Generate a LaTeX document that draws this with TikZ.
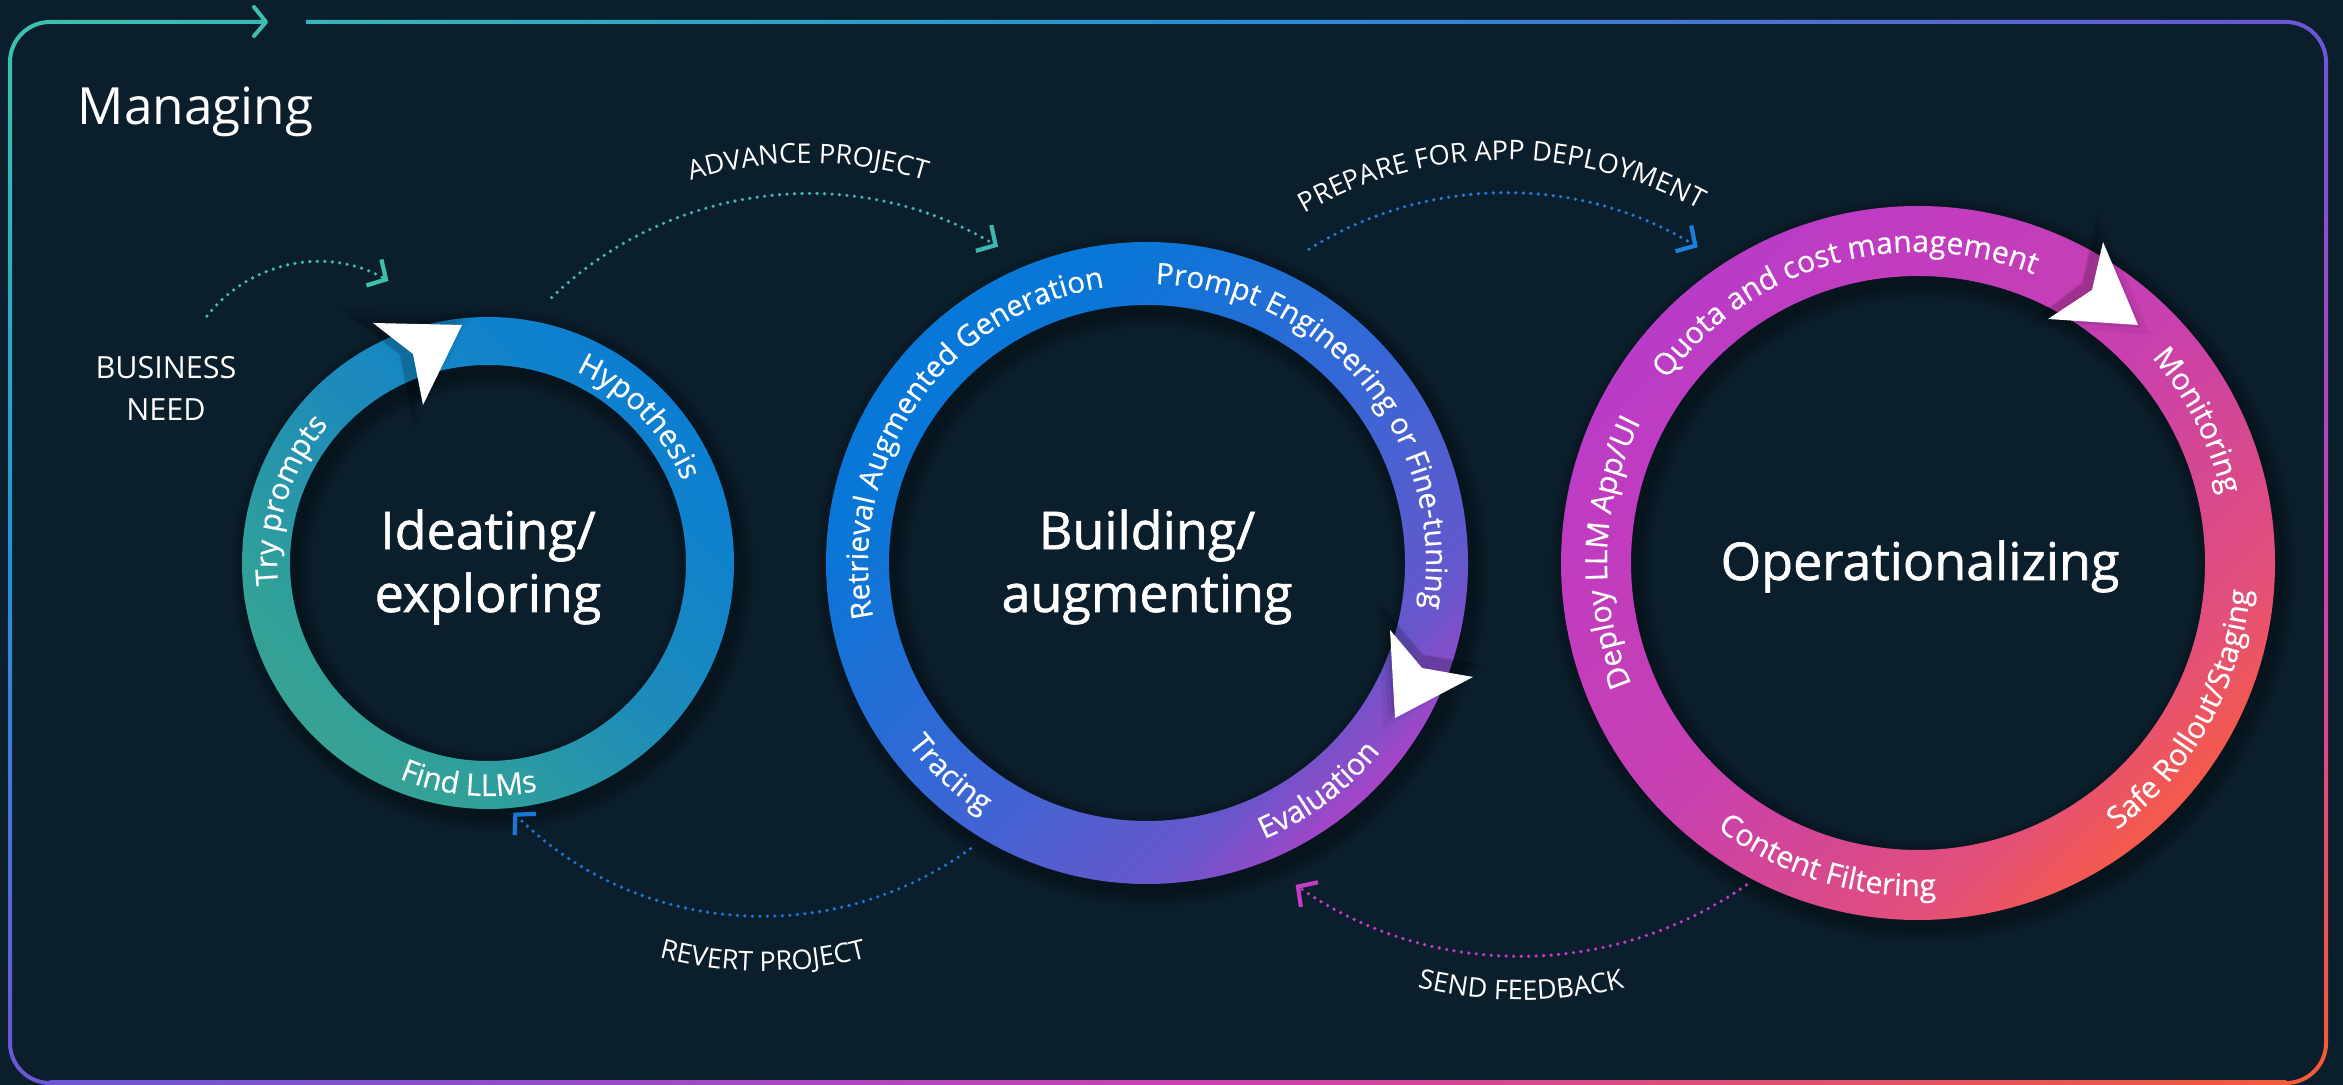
\documentclass[tikz,border=0pt]{standalone}
\usepackage{fontspec}
\setmainfont{Open Sans}
\newfontfamily\semib{Open Sans}[FakeBold=1.2]
\newfontfamily\medium{Open Sans}[FakeBold=0.4]
\usetikzlibrary{decorations.text, arrows.meta}

\definecolor{bg}{HTML}{0B1E2B}
% frame colours
\definecolor{fT}{HTML}{3CC1AE}
\definecolor{fB}{HTML}{2592D6}
\definecolor{fP}{HTML}{6A57D3}
\definecolor{fM}{HTML}{C841B4}
\definecolor{fO}{HTML}{F35A3A}
% ring 1
\definecolor{a0}{HTML}{38A294}
\definecolor{a1}{HTML}{30A09A}
\definecolor{a2}{HTML}{1E8CB8}
\definecolor{a3}{HTML}{1082CC}
\definecolor{a4}{HTML}{0C7ED2}
% ring 2
\definecolor{b0}{HTML}{0878D8}
\definecolor{b1}{HTML}{0A76D6}
\definecolor{b2}{HTML}{3468D6}
\definecolor{b3}{HTML}{6458CC}
\definecolor{b4}{HTML}{8A4CC8}
\definecolor{b5}{HTML}{A844C8}
% ring 3
\definecolor{d0}{HTML}{B83CC8}
\definecolor{d1}{HTML}{C03CC0}
\definecolor{d2}{HTML}{C840B0}
\definecolor{d3}{HTML}{D6488F}
\definecolor{d4}{HTML}{E24F7C}
\definecolor{d5}{HTML}{F45A4A}
% arrows
\definecolor{bizc}{HTML}{3CC0A8}
\definecolor{advc}{HTML}{3CB8B0}
\definecolor{prepc}{HTML}{1B7FE0}
\definecolor{revc}{HTML}{1679DA}
\definecolor{sendc}{HTML}{C23CC8}

\pgfdeclarehorizontalshading{ringA}{100bp}{color(0bp)=(a0); color(25bp)=(a0); color(32.5bp)=(a1); color(50bp)=(a2); color(67.5bp)=(a3); color(75bp)=(a4); color(100bp)=(a4)}
\pgfdeclarehorizontalshading{ringB}{100bp}{color(0bp)=(b0); color(25bp)=(b0); color(32.5bp)=(b1); color(50bp)=(b2); color(67.5bp)=(b3); color(72.5bp)=(b4); color(75bp)=(b5); color(100bp)=(b5)}
\pgfdeclarehorizontalshading{ringC}{100bp}{color(0bp)=(d0); color(25bp)=(d0); color(32.5bp)=(d1); color(50bp)=(d2); color(60bp)=(d3); color(67.5bp)=(d4); color(75bp)=(d5); color(100bp)=(d5)}

\newcommand\ringfont{\medium\fontsize{8.6}{10}\selectfont}
\newcommand\ringfontb{\medium\fontsize{8.4}{10}\selectfont}
\newcommand\arcfont{\fontsize{7.7}{9}\selectfont}

\tikzset{
  ringtext/.style={decorate, decoration={text along path, text align=center, text color=white, text={|\ringfont|#1}}},
  ringtextb/.style={decorate, decoration={text along path, text align=center, text color=white, text={|\ringfontb|#1}}},
  arctext/.style={decorate, decoration={text along path, text align=center, text color=white, text={|\arcfont|#1}}},
  dotarrow/.style={line width=0.36mm, dash pattern=on 0pt off 0.75mm, line cap=round,
     -{Straight Barb[length=1.4mm,width=3mm,line width=0.42mm]}},
  framecorner/.style={line width=0.4mm},
  bigtext/.style={text=white, align=center, inner sep=0pt, font=\semib\fontsize{14.8}{17.9}\selectfont},
  whitehead/.style={fill=white},
  headshade/.style={fill=black}
}

\begin{document}
\begin{tikzpicture}[x=0.1mm, y=0.1mm]
\useasboundingbox (0,0) rectangle (2343,1085);
\fill[bg] (0,0) rectangle (2343,1085);

% ---------- frame ----------
\begin{scope}
  \clip (50,1061) rectangle (266,1065) (306,1061) rectangle (2286,1065);
  \shade[left color=fT, right color=fP, middle color=fB] (50,1061) rectangle (2286,1065);
\end{scope}
\shade[top color=fT, bottom color=fP, middle color=fB] (8,42) rectangle (12,1023);
\shade[top color=fP, bottom color=fO, middle color=fM] (2324,42) rectangle (2328,1023);
\shade[left color=fP, right color=fO, middle color=fM] (50,0) rectangle (2286,4);
\draw[framecorner, fT] (10,1023) arc[start angle=180, end angle=90, radius=40];
\draw[framecorner, fP] (2286,1063) arc[start angle=90, end angle=0, radius=40];
\draw[framecorner, fO] (2326,42) arc[start angle=0, end angle=-90, radius=40];
\draw[framecorner, fP] (50,2) arc[start angle=270, end angle=180, radius=40];
\draw[fT, line width=0.4mm, line cap=round, line join=round] (254,1078) -- (266,1063) -- (254,1049);

\node[anchor=base west, inner sep=0pt, text=white, font=\fontsize{14.6}{17}\selectfont] (managing) at (77,960) {Managing};

% ---------- ring centres ----------
\coordinate (c1) at (488,522);
\coordinate (c2) at (1147,522);
\coordinate (c3) at (1918,522);

% ---------- ring shadows ----------
\foreach \k in {1,...,5} {
  \draw[black, opacity=0.06, line width={(48+6*\k)*0.1mm}] ([shift={(5,-7)}]c1) circle[radius=222];
  \draw[black, opacity=0.06, line width={(63+6*\k)*0.1mm}] ([shift={(5,-7)}]c2) circle[radius=289.5];
  \draw[black, opacity=0.06, line width={(70+6*\k)*0.1mm}] ([shift={(5,-7)}]c3) circle[radius=322];
}

% ---------- rings ----------
\shade[shading=ringA, shading angle=45, even odd rule] (c1) circle[radius=246] (c1) circle[radius=198];
\shade[shading=ringB, shading angle=-45, even odd rule] (c2) circle[radius=321] (c2) circle[radius=258];
\shade[shading=ringC, shading angle=-45, even odd rule] (c3) circle[radius=357] (c3) circle[radius=287];

% ---------- arrow-head shadows ----------
\foreach \s/\o in {1.5/0.05, 1.3/0.07, 1.15/0.09} {
  \fill[headshade, opacity=\o, scale around={\s:(405,733)}] (361,762) -- (450,760) -- (411,680) -- (401,731) -- cycle;
  \fill[headshade, opacity=\o, scale around={\s:(1418,426)}] (1390,467) -- (1422,429) -- (1466,422) -- (1395,379) -- cycle;
  \fill[headshade, opacity=\o, scale around={\s:(2090,797)}] (2095,849) -- (2084,801) -- (2046,772) -- (2130,766) -- cycle;
}
% ---------- white arrow heads ----------
\fill[whitehead] (373,762) -- (462,760) -- (423,680) -- (413,731) -- cycle;
\fill[whitehead] (1390,455) -- (1422,417) -- (1473,408) -- (1395,367) -- cycle;
\fill[whitehead] (2103,843) -- (2092,795) -- (2048,766) -- (2138,760) -- cycle;

% ---------- ring labels ----------
% ring 1
\path[ringtext={Hypothesis}] ([shift={(100:211)}]c1) arc[start angle=100, end angle=-12, radius=211];
\path[ringtext={Try prompts}] ([shift={(220:211)}]c1) arc[start angle=220, end angle=105, radius=211];
\path[ringtext={Find LLMs}] ([shift={(215:233)}]c1) arc[start angle=215, end angle=315, radius=233];
% ring 2
\path[ringtextb={Retrieval Augmented Generation}] ([shift={(208:279)}]c2) arc[start angle=208, end angle=82, radius=279];
\path[ringtextb={Prompt Engineering or Fine-tuning}] ([shift={(103:279)}]c2) arc[start angle=103, end angle=-24, radius=279];
\path[ringtext={Tracing}] ([shift={(190:300)}]c2) arc[start angle=190, end angle=264, radius=300];
\path[ringtext={Evaluation}] ([shift={(265:300)}]c2) arc[start angle=265, end angle=349, radius=300];
% ring 3
\path[ringtext={Quota and cost management}] ([shift={(160:311)}]c3) arc[start angle=160, end angle=52, radius=311];
\path[ringtext={Monitoring}] ([shift={(60:311)}]c3) arc[start angle=60, end angle=-6, radius=311];
\path[ringtext={Deploy LLM App/UI}] ([shift={(215:311)}]c3) arc[start angle=215, end angle=141, radius=311];
\path[ringtext={Safe Rollout/Staging}] ([shift={(295:333)}]c3) arc[start angle=295, end angle=367, radius=333];
\path[ringtext={Content Filtering}] ([shift={(218:333)}]c3) arc[start angle=218, end angle=288, radius=333];

% ---------- centre texts ----------
\node[bigtext] (t1) at (488,518) {Ideating/\\exploring};
\node[bigtext] (t2) at (1147,518) {Building/\\augmenting};
\node[bigtext, anchor=base] (t3) at (1920,505) {Operationalizing};

% ---------- business need ----------
\node[text=white, align=center, inner sep=0pt, font=\fontsize{8.7}{11.95}\selectfont] (biz) at (166,697) {BUSINESS\\NEED};

% ---------- dotted arrows ----------
\coordinate (bizC) at (318,682);
\coordinate (advC) at (808,522);
\coordinate (prepC) at (1505,522);
\coordinate (revC) at (763,522);
\coordinate (sendC) at (1521,522);

\draw[dotarrow, bizc] ([shift={(142:141)}]bizC) coordinate (bizS) arc[start angle=142, end angle=60, radius=141];
\draw[dotarrow, advc] ([shift={(134:369)}]advC) coordinate (advS) arc[start angle=134, end angle=59, radius=369];
\draw[dotarrow, prepc] ([shift={(122:370)}]prepC) coordinate (prepS) arc[start angle=122, end angle=58.6, radius=370];
\draw[dotarrow, revc] ([shift={(306:353)}]revC) coordinate (revS) arc[start angle=306, end angle=225, radius=353];
\draw[dotarrow, sendc] ([shift={(305:393)}]sendC) coordinate (sendS) arc[start angle=305, end angle=235, radius=393];

% ---------- arrow labels ----------
\path[arctext={ADVANCE PROJECT}] ([shift={(130:400)}]advC) arc[start angle=130, end angle=50, radius=400];
\path[arctext={PREPARE FOR APP DEPLOYMENT}] ([shift={(135:403)}]prepC) arc[start angle=135, end angle=46, radius=403];
\path[arctext={REVERT PROJECT}] ([shift={(230:408)}]revC) arc[start angle=230, end angle=310, radius=408];
\path[arctext={SEND FEEDBACK}] ([shift={(230:437)}]sendC) arc[start angle=230, end angle=310, radius=437];
\end{tikzpicture}
\end{document}
